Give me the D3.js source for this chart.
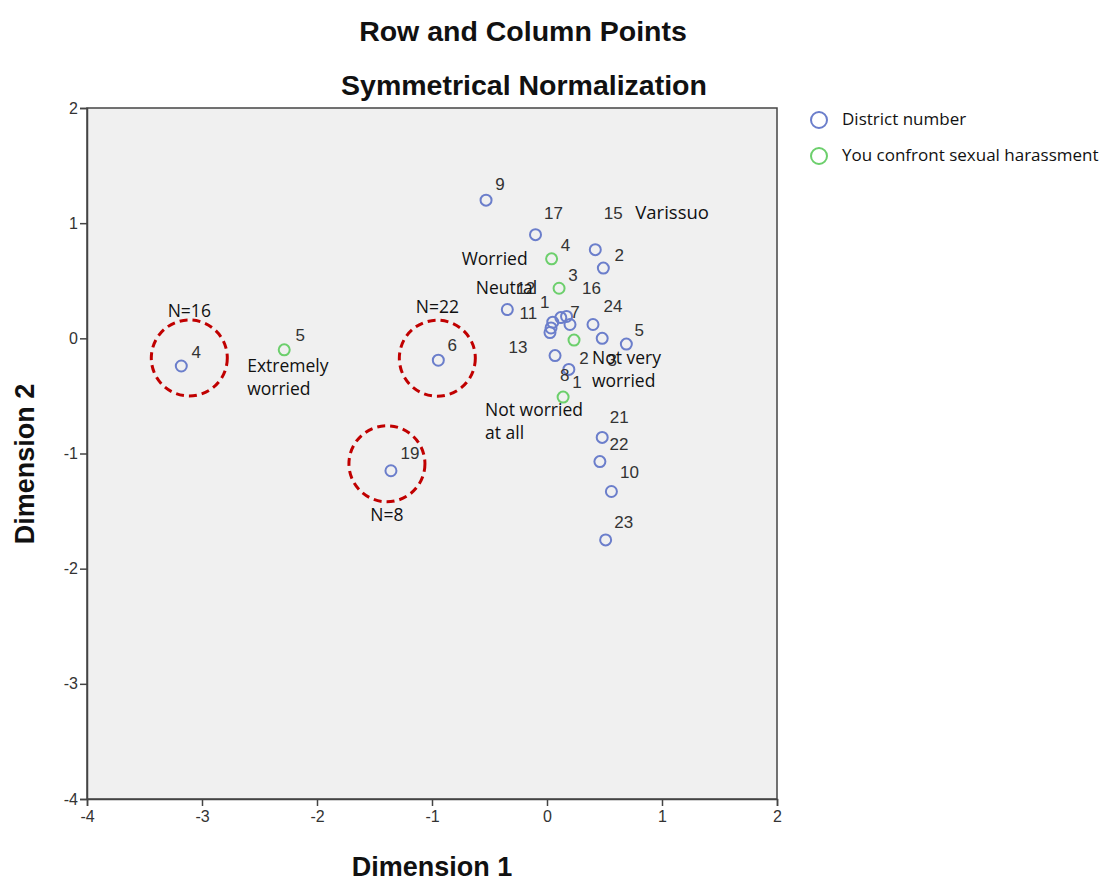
<!DOCTYPE html>
<html><head><meta charset="utf-8">
<script src="https://cdn.jsdelivr.net/npm/d3@7"></script>
<style>body{margin:0;background:#fff}</style>
</head><body>
<svg id="c" width="1110" height="881"></svg>
<script>
// Row points: District number
const districtNames = ["4","6","19","9","17","15","2","11","1","12","16","7","14","18","24","3","5","13","8","21","22","10","23"];
const districtDim1  = [-3.18,-0.945,-1.357,-0.53,-0.10,0.42,0.49,-0.345,0.05,0.12,0.17,0.20,0.035,0.026,0.40,0.48,0.69,0.07,0.19,0.48,0.46,0.56,0.51];
const districtDim2  = [-0.24,-0.19,-1.15,1.20,0.90,0.77,0.61,0.25,0.14,0.18,0.19,0.12,0.09,0.05,0.12,0.0,-0.05,-0.15,-0.27,-0.86,-1.07,-1.33,-1.75];
const districtShowLabel = [1,1,1,1,1,1,1,1,1,1,1,1,0,0,1,1,1,1,1,1,1,1,1];
// Column points: You confront sexual harassment
const worryNames = ["5","4","3","2","1"];
const worryCats  = ["Extremely worried","Worried","Neutral","Not very worried","Not worried at all"];
const worryDim1  = [-2.285,0.04,0.105,0.235,0.14];
const worryDim2  = [-0.10,0.69,0.435,-0.015,-0.51];
// Axis ticks
const xTicks = [-4,-3,-2,-1,0,1,2];
const yTicks = [-4,-3,-2,-1,0,1,2];
// Highlight circles (district, N)
const highlightDistricts = ["4","6","19"];
const highlightN = ["N=16","N=22","N=8"];

// ---- layout (offsets in px) ----
const districtLabelOffset = {
  "4":[15,-14],"6":[14,-15],"19":[19,-18],"9":[14,-16],"17":[18,-22],"15":[18,-37],"2":[16,-13],
  "11":[21,4],"1":[-8,-20],"12":[-35,-30],"16":[25,-28],"7":[5,-12],"24":[20,-18],"3":[10,22],
  "5":[13,-14],"13":[-37,-9],"8":[-4,6],"21":[17,-20],"22":[19,-18],"10":[18,-19],"23":[18,-18]
};
const worryLabelOffset = {"5":[16,-15],"4":[14,-14],"3":[14,-13],"2":[10,18],"1":[14,-15]};
const catTextOffset = {
  "Extremely worried":[-37,16,"start"],"Worried":[-24,0,"end"],"Neutral":[-22,0,"end"],
  "Not very worried":[18,18,"start"],"Not worried at all":[-78,13,"start"]
};
const highlightLayout = {"N=16":[8,-8,-47],"N=22":[-1,-2,-51],"N=8":[-4,-7,51]};

const svg = d3.select("#c");
const L=87,R=777,T=108,B=799;
const x = d3.scaleLinear().domain([-4,2]).range([L,R]);
const y = d3.scaleLinear().domain([-4,2]).range([B,T]);

svg.append("rect").attr("x",L).attr("y",T).attr("width",R-L).attr("height",B-T)
  .attr("fill","#f0f0f0").attr("stroke","#444").attr("stroke-width",1.5);

const gx = svg.append("g").attr("transform",`translate(0,${B})`)
  .call(d3.axisBottom(x).tickValues(xTicks).tickSize(7).tickPadding(5).tickFormat(d=>String(d)));
const gy = svg.append("g").attr("transform",`translate(${L},0)`)
  .call(d3.axisLeft(y).tickValues(yTicks).tickSize(7).tickPadding(2).tickFormat(d=>String(d)));
[gx,gy].forEach(g=>{
  g.select(".domain").attr("stroke","#444").attr("stroke-width",1.5);
  g.selectAll(".tick line").attr("stroke","#444").attr("stroke-width",1.5);
  g.selectAll(".tick text").attr("font-family","Liberation Sans, Arial, sans-serif")
    .attr("font-size",16).attr("fill","#333");
});

// titles
const tf = "Liberation Sans, Arial, sans-serif";
svg.append("text").attr("x",523).attr("y",41).attr("text-anchor","middle")
  .attr("font-family",tf).attr("font-weight","bold").attr("font-size",28.5).attr("fill","#111")
  .text("Row and Column Points");
svg.append("text").attr("x",524).attr("y",95).attr("text-anchor","middle")
  .attr("font-family",tf).attr("font-weight","bold").attr("font-size",28.5).attr("fill","#111")
  .text("Symmetrical Normalization");
svg.append("text").attr("x",(L+R)/2).attr("y",876).attr("text-anchor","middle")
  .attr("font-family",tf).attr("font-weight","bold").attr("font-size",27).attr("fill","#111")
  .text("Dimension 1");
svg.append("text").attr("transform","translate(34,464) rotate(-90)").attr("text-anchor","middle")
  .attr("font-family",tf).attr("font-weight","bold").attr("font-size",27).attr("fill","#111")
  .text("Dimension 2");

const blue="#6b7ecb", green="#6ccf6c";
const numFont="Liberation Sans, Arial, sans-serif";
const catFont="Open Sans, Noto Sans, sans-serif";

const districts = districtNames.map((n,i)=>({name:n,x:districtDim1[i],y:districtDim2[i],show:districtShowLabel[i]}));
const worry = worryNames.map((n,i)=>({name:n,cat:worryCats[i],x:worryDim1[i],y:worryDim2[i]}));

// red dashed highlight circles
highlightDistricts.forEach((d,i)=>{
  const p = districts.find(e=>e.name===d);
  const lay = highlightLayout[highlightN[i]];
  const cx = x(p.x)+lay[0], cy = y(p.y)+lay[1];
  svg.append("circle").attr("cx",cx).attr("cy",cy).attr("r",38)
    .attr("fill","none").attr("stroke","#c00000").attr("stroke-width",3).attr("stroke-dasharray","8,5");
  svg.append("text").attr("x",cx).attr("y",cy+lay[2]).attr("dy","0.35em")
    .attr("text-anchor","middle").attr("font-family",catFont).attr("font-size",17.5).attr("fill","#111")
    .text(highlightN[i]);
});

// district points
svg.append("g").selectAll("circle").data(districts).join("circle")
  .attr("cx",d=>x(d.x)).attr("cy",d=>y(d.y)).attr("r",5.5)
  .attr("fill","none").attr("stroke",blue).attr("stroke-width",2);
svg.append("g").selectAll("text").data(districts.filter(d=>d.show)).join("text")
  .attr("x",d=>x(d.x)+districtLabelOffset[d.name][0]).attr("y",d=>y(d.y)+districtLabelOffset[d.name][1])
  .attr("dy","0.35em").attr("text-anchor","middle")
  .attr("font-family",numFont).attr("font-size",17).attr("fill","#333").text(d=>d.name);

// worry points
svg.append("g").selectAll("circle").data(worry).join("circle")
  .attr("cx",d=>x(d.x)).attr("cy",d=>y(d.y)).attr("r",5.5)
  .attr("fill","none").attr("stroke",green).attr("stroke-width",2);
svg.append("g").selectAll("text").data(worry).join("text")
  .attr("x",d=>x(d.x)+worryLabelOffset[d.name][0]).attr("y",d=>y(d.y)+worryLabelOffset[d.name][1])
  .attr("dy","0.35em").attr("text-anchor","middle")
  .attr("font-family",numFont).attr("font-size",17).attr("fill","#333").text(d=>d.name);

// category annotations
worry.forEach(d=>{
  const o = catTextOffset[d.cat];
  let lines;
  if(d.cat==="Not worried at all") lines=["Not worried","at all"];
  else if(d.cat==="Not very worried") lines=["Not very","worried"];
  else if(d.cat==="Extremely worried") lines=["Extremely","worried"];
  else lines=[d.cat];
  const t = svg.append("text").attr("font-family",catFont).attr("font-size",17.5).attr("fill","#111")
    .attr("text-anchor",o[2]);
  lines.forEach((l,k)=>{
    t.append("tspan").attr("x",x(d.x)+o[0]).attr("y",y(d.y)+o[1]+k*23).attr("dy","0.35em").text(l);
  });
});

// Varissuo annotation next to district 15
const d15 = districts.find(e=>e.name==="15");
svg.append("text").attr("x",x(d15.x)+40).attr("y",y(d15.y)-37).attr("dy","0.35em")
  .attr("font-family",catFont).attr("font-size",18.5).attr("fill","#111").text("Varissuo");

// legend
const legend = [{label:"District number",color:blue},{label:"You confront sexual harassment",color:green}];
const lg = svg.append("g");
legend.forEach((d,i)=>{
  lg.append("circle").attr("cx",819).attr("cy",120+i*36).attr("r",8)
    .attr("fill","none").attr("stroke",d.color).attr("stroke-width",2);
  lg.append("text").attr("x",842).attr("y",119+i*36).attr("dy","0.35em")
    .attr("font-family",catFont).attr("font-size",17).attr("fill","#111").text(d.label);
});
</script>
</body></html>
